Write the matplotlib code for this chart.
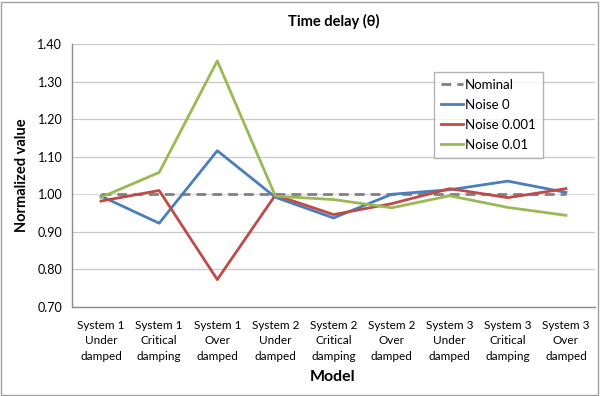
import matplotlib
matplotlib.use("Agg")
import matplotlib.pyplot as plt
from matplotlib.patches import Rectangle

categories = ["System 1\nUnder\ndamped", "System 1\nCritical\ndamping", "System 1\nOver\ndamped",
              "System 2\nUnder\ndamped", "System 2\nCritical\ndamping", "System 2\nOver\ndamped",
              "System 3\nUnder\ndamped", "System 3\nCritical\ndamping", "System 3\nOver\ndamped"]
nominal = [1.0, 1.0, 1.0, 1.0, 1.0, 1.0, 1.0, 1.0, 1.0]
noise_0 = [0.995, 0.923, 1.116, 0.992, 0.937, 1.000, 1.012, 1.035, 1.005]
noise_0001 = [0.982, 1.010, 0.773, 0.998, 0.946, 0.975, 1.015, 0.991, 1.015]
noise_001 = [0.992, 1.058, 1.355, 0.995, 0.986, 0.964, 0.996, 0.965, 0.944]
yticks = [0.70, 0.80, 0.90, 1.00, 1.10, 1.20, 1.30, 1.40]

plt.rcParams['font.family'] = ['Lato', 'DejaVu Sans']

fig = plt.figure(figsize=(6, 3.96), dpi=100)
fig.patches.append(Rectangle((0.002, 0.002), 0.995, 0.994, transform=fig.transFigure,
                             fill=False, edgecolor='#a0a0a0', linewidth=1))
ax = fig.add_axes([0.12, 0.2247, 0.8717, 0.6643])

x = list(range(len(categories)))
for yv in yticks:
    ax.axhline(yv, color='#c8c8c8' if yv != 1.0 else '#dcdcdc', linewidth=0.9, zorder=0)

ax.plot(x, nominal, color='#808080', linestyle=(0, (3.5, 2.2)), linewidth=2, label='Nominal', zorder=2)
ax.plot(x, noise_0, color='#4A7EBB', linewidth=2, label='Noise 0', zorder=3)
ax.plot(x, noise_0001, color='#BE4B48', linewidth=2, label='Noise 0.001', zorder=3)
ax.plot(x, noise_001, color='#98B954', linewidth=2, label='Noise 0.01', zorder=3)

ax.set_xlim(-0.5, len(categories) - 0.5)
ax.set_ylim(0.70, 1.40)
ax.set_yticks(yticks)
ax.set_yticklabels([f"{v:.2f}" for v in yticks], fontsize=9)
ax.set_xticks(x)
ax.set_xticklabels(categories, fontsize=8.5, linespacing=1.55)
ax.tick_params(axis='both', length=0, pad=7)
ax.tick_params(axis='x', pad=9)
for s in ['top', 'right']:
    ax.spines[s].set_visible(False)
for s in ['left', 'bottom']:
    ax.spines[s].set_color('#8c8c8c')
    ax.spines[s].set_linewidth(1)

ax.set_title("Time delay (θ)", fontsize=10.5, fontweight='bold', pad=13)
ax.set_ylabel("Normalized value", fontsize=10.5, fontweight='bold', labelpad=6)
fig.text(0.554, 1 - 377 / 396, "Model", fontsize=11.5, fontweight='bold', ha='center', va='center')

leg = ax.legend(loc='upper left', bbox_to_anchor=(0.679, 0.92), fontsize=9.5, frameon=True,
                fancybox=False, edgecolor='#a0a0a0', handlelength=1.7, handletextpad=0.1,
                labelspacing=0.6, borderpad=0.55)
leg.get_frame().set_linewidth(1)

fig.savefig("out.png", dpi=100)
